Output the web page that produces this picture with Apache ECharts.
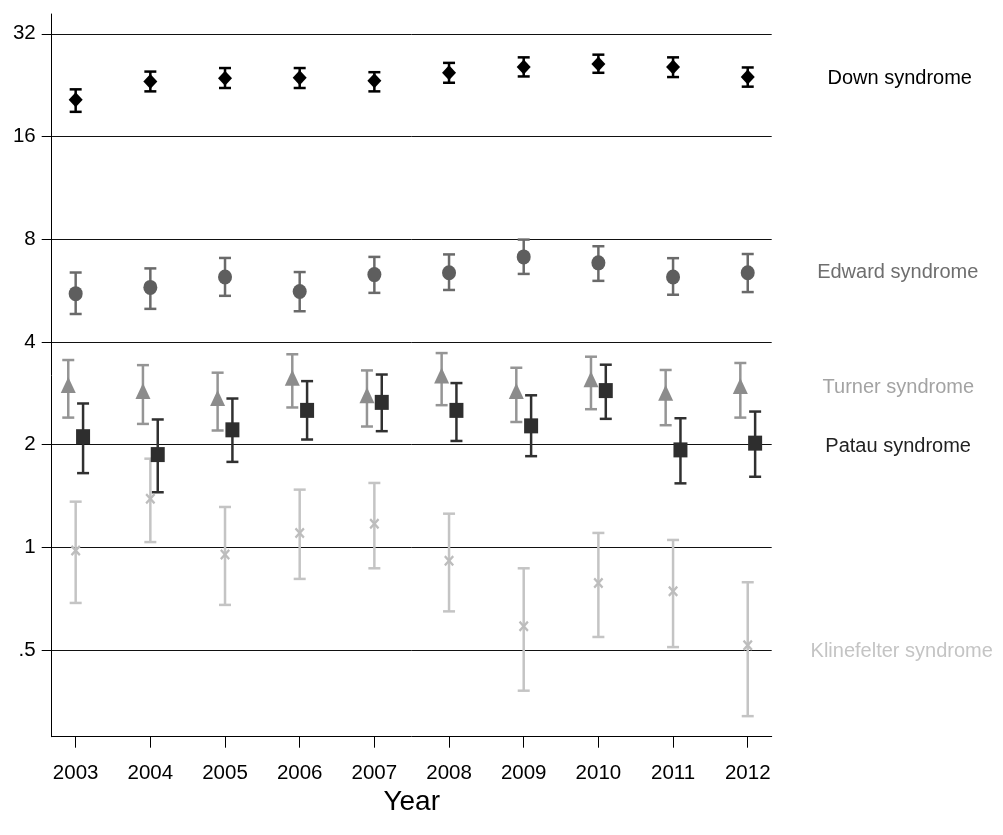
<!DOCTYPE html>
<html>
<head>
<meta charset="utf-8">
<script src="https://cdn.jsdelivr.net/npm/echarts@6/dist/echarts.min.js"></script>
<style>
html,body{margin:0;padding:0;background:#fff;}
#chart{width:1003px;height:835px;}
</style>
</head>
<body>
<div id="chart"></div>
<script>
// ---- data ----
const years = [2003, 2004, 2005, 2006, 2007, 2008, 2009, 2010, 2011, 2012];
const yTickValues = [0.5, 1, 2, 4, 8, 16, 32];
const yTickLabels = ['.5', '1', '2', '4', '8', '16', '32'];
const seriesNames = ['Down syndrome', 'Edward syndrome', 'Turner syndrome', 'Patau syndrome', 'Klinefelter syndrome'];

const downEst = [20.5, 23.2, 23.7, 23.8, 23.3, 24.6, 25.6, 26.1, 25.6, 23.9];
const downLo  = [18.9, 21.7, 22.2, 22.2, 21.7, 23.0, 24.0, 24.6, 23.9, 22.4];
const downHi  = [22.0, 24.8, 25.4, 25.4, 24.7, 26.3, 27.3, 27.8, 27.3, 25.5];

const edwardEst = [5.54, 5.78, 6.20, 5.62, 6.30, 6.38, 7.10, 6.82, 6.20, 6.38];
const edwardLo  = [4.83, 5.00, 5.46, 4.92, 5.57, 5.68, 6.33, 6.04, 5.50, 5.60];
const edwardHi  = [6.39, 6.57, 7.05, 6.41, 7.10, 7.22, 7.98, 7.63, 7.04, 7.24];

const turnerEst = [2.99, 2.87, 2.74, 3.14, 2.79, 3.19, 2.87, 3.11, 2.84, 2.97];
const turnerLo  = [2.40, 2.30, 2.20, 2.57, 2.26, 2.61, 2.33, 2.54, 2.28, 2.40];
const turnerHi  = [3.54, 3.42, 3.25, 3.68, 3.30, 3.71, 3.36, 3.62, 3.31, 3.47];

const patauEst = [2.11, 1.87, 2.21, 2.52, 2.66, 2.52, 2.27, 2.88, 1.93, 2.02];
const patauLo  = [1.65, 1.45, 1.78, 2.07, 2.19, 2.05, 1.85, 2.38, 1.54, 1.61];
const patauHi  = [2.64, 2.37, 2.73, 3.07, 3.21, 3.03, 2.79, 3.43, 2.39, 2.50];

const klineEst = [0.978, 1.389, 0.952, 1.102, 1.173, 0.914, 0.587, 0.786, 0.743, 0.516];
const klineLo  = [0.687, 1.036, 0.678, 0.808, 0.868, 0.649, 0.380, 0.546, 0.510, 0.320];
const klineHi  = [1.361, 1.819, 1.313, 1.476, 1.544, 1.255, 0.868, 1.102, 1.051, 0.790];

// ---- styling ----
const FONT = '"Liberation Sans", Arial, sans-serif';
const L2 = v => Math.log2(v);
const tickMap = {};
yTickValues.forEach((v, i) => { tickMap[L2(v)] = yTickLabels[i]; });

const defs = [
  {name: seriesNames[0], est: downEst, lo: downLo, hi: downHi, symbol: 'diamond', size: [14, 15],
   color: '#000000', barColor: '#000000', dx: 0, labelColor: '#000000', labelDx: 152, labelDy: 1},
  {name: seriesNames[1], est: edwardEst, lo: edwardLo, hi: edwardHi, symbol: 'circle', size: [14, 15],
   color: '#5e5e5e', barColor: '#6a6a6a', dx: 0, labelColor: '#6e6e6e', labelDx: 150, labelDy: 0},
  {name: seriesNames[2], est: turnerEst, lo: turnerLo, hi: turnerHi, symbol: 'triangle', size: [15, 16],
   color: '#8c8c8c', barColor: '#959595', dx: -7.4, labelColor: '#a3a3a3', labelDx: 158, labelDy: 1},
  {name: seriesNames[3], est: patauEst, lo: patauLo, hi: patauHi, symbol: 'rect', size: [14, 15],
   color: '#2e2e2e', barColor: '#303030', dx: 7.4, labelColor: '#222222', labelDx: 143, labelDy: 3},
  {name: seriesNames[4], est: klineEst, lo: klineLo, hi: klineHi,
   symbol: 'path://M0,1.6 L1.6,0 L5,3.4 L8.4,0 L10,1.6 L6.6,5 L10,8.4 L8.4,10 L5,6.6 L1.6,10 L0,8.4 L3.4,5 Z', size: [10, 11],
   color: '#bdbdbd', barColor: '#c4c4c4', dx: 0, labelColor: '#c4c4c4', labelDx: 154, labelDy: 6}
];

const series = [];
defs.forEach(d => {
  const barData = years.map((y, i) => [y, L2(d.lo[i]), L2(d.hi[i])]);
  series.push({
    type: 'custom',
    name: d.name + ' CI',
    data: barData,
    encode: {x: 0, y: [1, 2]},
    z: 2,
    silent: true,
    renderItem: function (params, api) {
      const x = api.value(0);
      const pLo = api.coord([x, api.value(1)]);
      const pHi = api.coord([x, api.value(2)]);
      const cx = pLo[0] + d.dx;
      const half = 6;
      const st = {stroke: d.barColor, lineWidth: 2.5};
      return {
        type: 'group',
        children: [
          {type: 'line', shape: {x1: cx, y1: pLo[1], x2: cx, y2: pHi[1]}, style: st},
          {type: 'line', shape: {x1: cx - half, y1: pLo[1], x2: cx + half, y2: pLo[1]}, style: st},
          {type: 'line', shape: {x1: cx - half, y1: pHi[1], x2: cx + half, y2: pHi[1]}, style: st}
        ]
      };
    }
  });
});
defs.forEach(d => {
  const pts = years.map((y, i) => {
    const item = {value: [y, L2(d.est[i])]};
    if (i === years.length - 1) {
      item.label = {
        show: true, position: 'inside', offset: [d.labelDx, d.labelDy],
        formatter: d.name, color: d.labelColor, fontSize: 20, fontFamily: FONT, align: 'center'
      };
    }
    return item;
  });
  series.push({
    type: 'scatter',
    name: d.name,
    data: pts,
    symbol: d.symbol,
    symbolSize: d.size,
    symbolOffset: [d.dx, 0],
    itemStyle: {color: d.color, opacity: 1},
    z: 3,
    silent: true,
    label: {show: false}
  });
});

const chart = echarts.init(document.getElementById('chart'), null, {renderer: 'canvas'});
chart.setOption({
  animation: false,
  backgroundColor: '#ffffff',
  grid: {left: 51.7, right: 231.3, top: 14, bottom: 98.3, containLabel: false},
  xAxis: {
    type: 'value',
    min: 2002.679, max: 2012.321,
    axisLine: {show: true, onZero: false, lineStyle: {color: '#000', width: 1}},
    axisTick: {show: true, customValues: years, length: 11, lineStyle: {color: '#000', width: 1}},
    axisLabel: {show: true, customValues: years, formatter: v => String(v), margin: 26,
      fontSize: 20.5, fontFamily: FONT, color: '#000'},
    splitLine: {show: false},
    name: 'Year', nameLocation: 'middle', nameGap: 48,
    nameTextStyle: {fontSize: 28, fontFamily: FONT, color: '#000'}
  },
  yAxis: {
    type: 'value',
    min: -1.844, max: 5.193,
    axisLine: {show: true, onZero: false, lineStyle: {color: '#000', width: 1}},
    axisTick: {show: true, customValues: yTickValues.map(L2), length: 10, lineStyle: {color: '#000', width: 1}},
    axisLabel: {show: true, customValues: yTickValues.map(L2), formatter: v => tickMap[v] !== undefined ? tickMap[v] : '',
      margin: 16, fontSize: 20.5, fontFamily: FONT, color: '#000'},
    splitLine: {show: true, lineStyle: {color: '#111', width: 1}}
  },
  series: series
});
</script>
</body>
</html>
